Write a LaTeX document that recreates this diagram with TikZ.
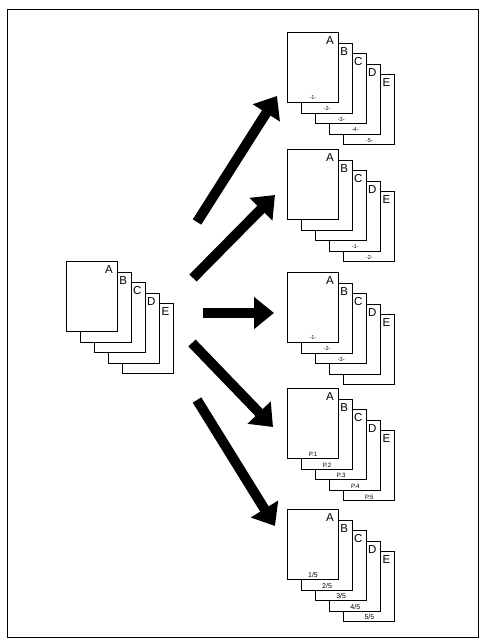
\documentclass[tikz,border=0pt]{standalone}
\usepackage{fontspec}
\setmainfont{Liberation Sans}
\usepackage{tikz}
\usetikzlibrary{arrows.meta}

\tikzset{
  sheet/.style={draw, fill=white, line width=1pt, inner sep=0pt,
    minimum width=51pt, minimum height=70pt, anchor=north west},
  letter/.style={inner sep=0pt, font=\fontsize{11.5}{13}\selectfont},
  pnum/.style={inner sep=0pt, font=\fontsize{5.6}{6}\selectfont},
  bigarrow/.style={line width=10pt, -{Triangle[length=20pt,width=31pt]}}
}

% one stack of five sheets, E at the back and A in front
\newcommand{\docstack}[3]{
  \foreach \p/\k in {E/4,D/3,C/2,B/1,A/0}{
    \node[sheet] (#1-\p) at (#2+\k*14.1, #3+\k*10.6) {};
    \node[letter] (#1-\p txt) at ([xshift=-9pt,yshift=-8.5pt]#1-\p.north east) {\p};
  }
}

\begin{document}
\begin{tikzpicture}[x=1pt,y=-1pt]
    \useasboundingbox (0,0) rectangle (481,639);
    \draw[line width=0.9pt] (7,9) rectangle (478,637);

    % original set
    \docstack{src}{66}{261}

    % the five results
    \docstack{s1}{287}{32}
    \docstack{s2}{287}{149}
    \docstack{s3}{287}{272}
    \docstack{s4}{287}{388}
    \docstack{s5}{287}{509}

    \node[pnum] (s1-n1) at ([yshift=5pt]s1-A.south) {-1-};
    \node[pnum] (s1-n2) at ([yshift=5pt]s1-B.south) {-2-};
    \node[pnum] (s1-n3) at ([yshift=5pt]s1-C.south) {-3-};
    \node[pnum] (s1-n4) at ([yshift=5pt]s1-D.south) {-4-};
    \node[pnum] (s1-n5) at ([yshift=5pt]s1-E.south) {-5-};

    \node[pnum] (s2-n1) at ([yshift=5pt]s2-D.south) {-1-};
    \node[pnum] (s2-n2) at ([yshift=5pt]s2-E.south) {-2-};

    \node[pnum] (s3-n1) at ([yshift=5pt]s3-A.south) {-1-};
    \node[pnum] (s3-n2) at ([yshift=5pt]s3-B.south) {-2-};
    \node[pnum] (s3-n3) at ([yshift=5pt]s3-C.south) {-3-};

    \node[pnum,font=\fontsize{6.2}{7}\selectfont] (s4-n1) at ([yshift=4.5pt]s4-A.south) {P.1};
    \node[pnum,font=\fontsize{6.2}{7}\selectfont] (s4-n2) at ([yshift=4.5pt]s4-B.south) {P.2};
    \node[pnum,font=\fontsize{6.2}{7}\selectfont] (s4-n3) at ([yshift=4.5pt]s4-C.south) {P.3};
    \node[pnum,font=\fontsize{6.2}{7}\selectfont] (s4-n4) at ([yshift=4.5pt]s4-D.south) {P.4};
    \node[pnum,font=\fontsize{6.2}{7}\selectfont] (s4-n5) at ([yshift=4.5pt]s4-E.south) {P.5};

    \node[pnum,font=\fontsize{7}{8}\selectfont] (s5-n1) at ([yshift=5pt]s5-A.south) {1/5};
    \node[pnum,font=\fontsize{7}{8}\selectfont] (s5-n2) at ([yshift=5pt]s5-B.south) {2/5};
    \node[pnum,font=\fontsize{7}{8}\selectfont] (s5-n3) at ([yshift=5pt]s5-C.south) {3/5};
    \node[pnum,font=\fontsize{7}{8}\selectfont] (s5-n4) at ([yshift=5pt]s5-D.south) {4/5};
    \node[pnum,font=\fontsize{7}{8}\selectfont] (s5-n5) at ([yshift=5pt]s5-E.south) {5/5};

    % arrows
    \coordinate (t1) at (197,222);  \coordinate (h1) at (277,96);
    \coordinate (t2) at (193,278);  \coordinate (h2) at (275,195);
    \coordinate (t3) at (203,313);  \coordinate (h3) at (274,313);
    \coordinate (t4) at (192,343);  \coordinate (h4) at (273,427);
    \coordinate (t5) at (197,400);  \coordinate (h5) at (275,526);
    \foreach \i in {1,...,5}
      \draw[bigarrow] (t\i) -- (h\i);
\end{tikzpicture}
\end{document}
